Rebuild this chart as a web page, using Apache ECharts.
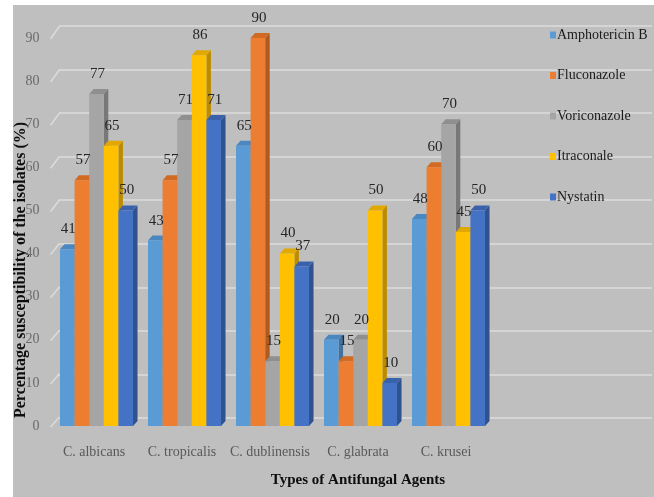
<!DOCTYPE html>
<html><head><meta charset="utf-8">
<script src="https://cdn.jsdelivr.net/npm/echarts@6/dist/echarts.min.js"></script>
<style>
html,body{margin:0;padding:0;background:#fff;}
#c{position:absolute;left:0;top:0;width:654px;height:497px;
background:linear-gradient(#fff,#fff) 0 0/100% 5px no-repeat,linear-gradient(#fff,#fff) 0 0/13px 100% no-repeat,#bfbfbf;}
</style></head><body><div id="c"></div>
<script>
const categories = ['C. albicans','C. tropicalis','C. dublinensis','C. glabrata','C. krusei'];
const seriesNames = ['Amphotericin B','Fluconazole','Voriconazole','Itraconale','Nystatin'];
const amphotericinB = [41,43,65,20,48];
const fluconazole = [57,57,90,15,60];
const voriconazole = [77,71,15,20,70];
const itraconale = [65,86,40,50,45];
const nystatin = [50,71,37,10,50];
const yTicks = [0,10,20,30,40,50,60,70,80,90];

const seriesValues = [amphotericinB, fluconazole, voriconazole, itraconale, nystatin];
const colors = ['#5b9bd5','#ed7d31','#a5a5a5','#ffc000','#4472c4'];
const sideColors = ['#41719c','#ae5a21','#787878','#bc8c00','#2f528f'];
const topColors = ['#4a86bf','#d26a22','#8f8f8f','#e0a800','#3a62aa'];
const font = '"Liberation Serif","Times New Roman",serif';
const DX = 4.5, DY = -5;

const chart = echarts.init(document.getElementById('c'), null, {renderer:'canvas'});

function barSeries(si){
  return {
    type:'custom', name: seriesNames[si], xAxisIndex:0, yAxisIndex:0,
    itemStyle:{color: colors[si]},
    data: seriesValues[si].map((v,i)=>[i,v]),
    z: 5,
    renderItem: function(params, api){
      const ci = api.value(0), v = api.value(1);
      const top = api.coord([ci, v]);
      const base = api.coord([ci, 0]);
      const band = api.size([1,0])[0];
      const w = band * 0.166;
      const x0 = top[0] + (si - 2.5) * w;
      const x1 = x0 + w;
      const yt = top[1], yb = base[1];
      return {
        type:'group',
        children:[
          {type:'polygon', shape:{points:[[x1,yt],[x1+DX,yt+DY],[x1+DX,yb+DY],[x1,yb]]}, style:{fill: sideColors[si]}},
          {type:'polygon', shape:{points:[[x0,yt],[x0+DX,yt+DY],[x1+DX,yt+DY],[x1,yt]]}, style:{fill: topColors[si]}},
          {type:'rect', shape:{x:x0, y:yt, width:w, height:yb-yt}, style:{fill: colors[si]}},
          {type:'text', z2: 10, style:{text: String(v), x:(x0+x1)/2+1, y: yt - 20, align:'center', verticalAlign:'middle',
            fill:'#262626', font:'15px ' + font}}
        ]
      };
    }
  };
}

const slantSeries = {
  type:'custom', xAxisIndex:0, yAxisIndex:0, silent:true, z:1,
  data: yTicks.map(v=>[0,v]),
  renderItem: function(params, api){
    const p = api.coord([0, api.value(1)]);
    const x = params.coordSys.x - 2;
    const y = p[1] + 1;
    return {type:'line', shape:{x1:x, y1:y, x2:x+9, y2:y-10 - api.value(1)*0.03}, style:{stroke:'#dcdcdc', lineWidth:1.5}};
  }
};

chart.setOption({
  animation:false,
  backgroundColor:'transparent',
  grid:[
    {left:52.5, right:161.5, top:38, bottom:71},
    {left:59, right:2, top:26, bottom:79}
  ],
  xAxis:[
    {type:'category', gridIndex:0, data:categories, axisLine:{show:false}, axisTick:{show:false},
     axisLabel:{interval:0, color:'#595959', fontFamily:font, fontSize:14, margin:19, padding:[0,5,0,0]}},
    {type:'category', gridIndex:1, data:categories, show:false}
  ],
  yAxis:[
    {type:'value', gridIndex:0, min:0, max:90, interval:10, splitLine:{show:false}, axisLine:{show:false}, axisTick:{show:false},
     axisLabel:{color:'#6b6b6b', fontFamily:font, fontSize:14, margin:13}},
    {type:'value', gridIndex:1, min:0, max:90, interval:10, axisLabel:{show:false}, axisLine:{show:false}, axisTick:{show:false},
     splitLine:{show:true, lineStyle:{color:'#dcdcdc', width:1.5}}}
  ],
  legend:{
    orient:'vertical', left:545, top:23, itemGap:26.5, itemWidth:6, itemHeight:7, icon:'rect',
    data: seriesNames,
    textStyle:{color:'#1a1a1a', fontFamily:font, fontSize:14, padding:[0,0,0,-4]}
  },
  graphic:[
    {type:'text', x:21, y:270, rotation:Math.PI/2, style:{text:'Percentage susceptibility of the isolates (%)', align:'center', verticalAlign:'middle',
      fill:'#0d0d0d', font:'bold 16px ' + font}},
    {type:'text', x:358, y:480, style:{text:'Types of Antifungal Agents', align:'center', verticalAlign:'middle',
      fill:'#0d0d0d', font:'bold 15px ' + font}}
  ],
  series:[slantSeries].concat(seriesNames.map((n,i)=>barSeries(i)))
});
</script></body></html>
